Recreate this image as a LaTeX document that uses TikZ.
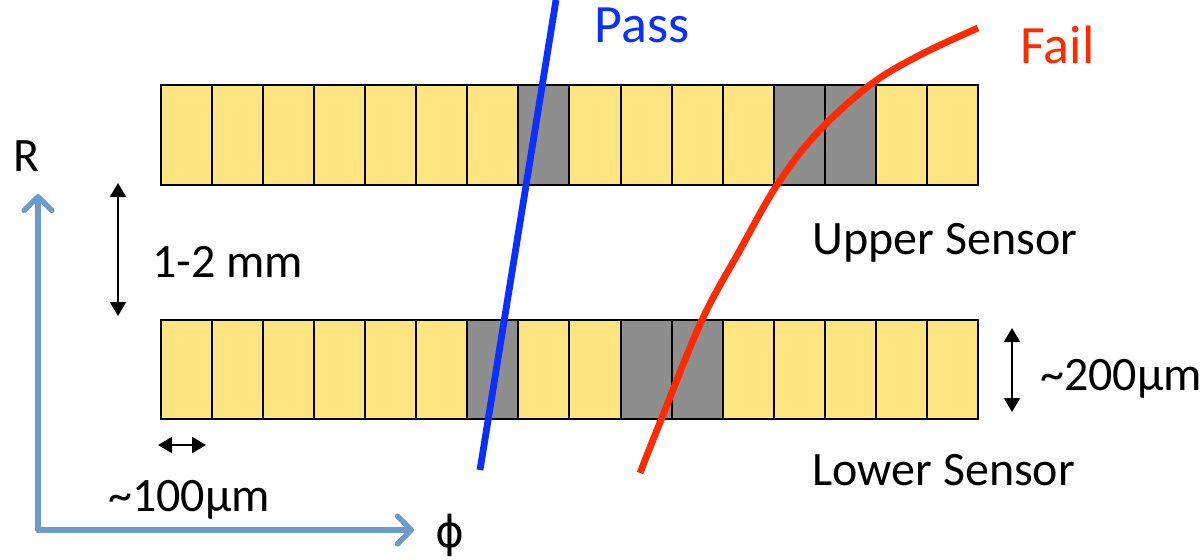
\documentclass[tikz,border=0pt]{standalone}
\usepackage{fontspec}
\setmainfont{Carlito}
\newfontfamily\symfont{DejaVu Sans}
\usetikzlibrary{arrows.meta,positioning}
\definecolor{cellyellow}{HTML}{FEE581}
\definecolor{cellgray}{HTML}{8E8E8E}
\definecolor{passblue}{HTML}{0A30FF}
\definecolor{failred}{HTML}{FF2A00}
\definecolor{axisblue}{HTML}{6B9BCC}

\begin{document}
\begin{tikzpicture}[x=0.5pt, y=-0.5pt,
    cell/.style={draw=black, line width=1pt, fill=cellyellow},
    hit/.style={draw=black, line width=1pt, fill=cellgray},
    dim/.style={{Triangle[length=7pt,width=8pt]}-{Triangle[length=7pt,width=8pt]}, line width=1pt},
    axis/.style={-{Straight Barb[length=7pt,width=14pt,round]}, line width=2.6pt, axisblue, line cap=round, line join=round},
    lbl/.style={font=\fontsize{24}{28}\selectfont, inner sep=0pt},
    big/.style={font=\fontsize{27}{32}\selectfont, inner sep=0pt},
    track/.style={line width=3.4pt}]
  \useasboundingbox (0,0) rectangle (1204,559);
  % --- Sensor strips (16 per row) ---
  \foreach \i in {0,...,15} {
    \draw[cell] ({161+\i*51.06},85) rectangle ({161+(\i+1)*51.06},185);
    \draw[cell] ({161+\i*51.06},320) rectangle ({161+(\i+1)*51.06},419);
  }
  % --- Hit strips ---
  \foreach \i in {7,12,13}
    \draw[hit] ({161+\i*51.06},85) rectangle ({161+(\i+1)*51.06},185);
  \foreach \i in {6,9,10}
    \draw[hit] ({161+\i*51.06},320) rectangle ({161+(\i+1)*51.06},419);
  % --- Tracks ---
  \coordinate (passlo) at (480,470);
  \coordinate (passhi) at (556,0);
  \draw[track, passblue] (passlo) -- (passhi);
  \draw[track, failred] plot[smooth, tension=0.6] coordinates
    {(640,473) (661,420) (702,320) (740,250) (777,185) (817,133) (870,85) (920,55) (978,28)};
  \node[big, anchor=base west, text=passblue] (pass) at (594,42) {Pass};
  \node[big, anchor=base west, text=failred] (fail) at (1020,63) {Fail};
  % --- Sensor labels ---
  \node[lbl, anchor=base west] (upper) at (812,254) {Upper Sensor};
  \node[lbl, anchor=base west] (lower) at (812,485) {Lower Sensor};
  % --- Dimensions ---
  \coordinate (gaptop) at (118,183);
  \coordinate (gapbot) at (118,316);
  \draw[dim] (gaptop) -- (gapbot);
  \node[lbl, anchor=base west] (gap) at (152,277) {1-2 mm};
  \coordinate (pitchl) at (158,445);
  \coordinate (pitchr) at (206,445);
  \draw[dim] (pitchl) -- (pitchr);
  \node[lbl, anchor=base west] (pitch) at (108,511) {\~{}100µm};
  \coordinate (thicktop) at (1012,328);
  \coordinate (thickbot) at (1012,412);
  \draw[dim] (thicktop) -- (thickbot);
  \node[lbl, anchor=base west] (thick) at (1040,390) {\~{}200µm};
  % --- Axes ---
  \coordinate (origin) at (38,530);
  \coordinate (rend) at (38,194);
  \coordinate (phiend) at (414,530);
  \draw[axis] (origin) -- (rend);
  \draw[axis] (origin) -- (phiend);
  \node[lbl, anchor=base west] (rlbl) at (13,171) {R};
  \node[lbl, font=\symfont\fontsize{22}{26}\selectfont] (philbl) at (450,535) {ϕ};
\end{tikzpicture}
\end{document}
